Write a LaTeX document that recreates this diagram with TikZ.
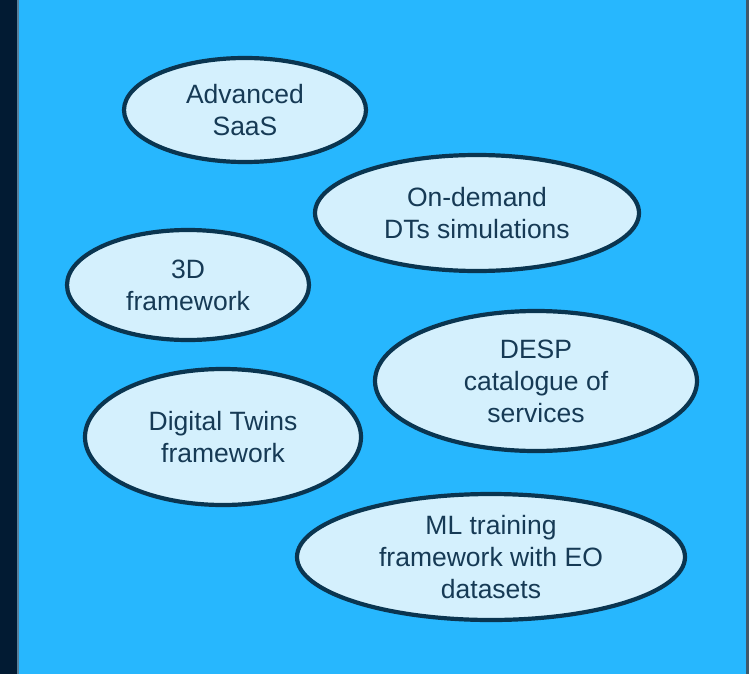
\documentclass[tikz,border=0pt]{standalone}
\usepackage{fontspec}
\setmainfont{Liberation Sans}
\usetikzlibrary{shapes.geometric}
\definecolor{bgblue}{HTML}{27B7FE}
\definecolor{navy}{HTML}{021B33}
\definecolor{edgeline}{HTML}{5A7F98}
\definecolor{ellfill}{HTML}{D4F0FD}
\definecolor{ellborder}{HTML}{0A3550}
\definecolor{txt}{HTML}{163A55}
\tikzset{
  bubble/.style={ellipse, draw=ellborder, line width=4.2pt, fill=ellfill,
    inner sep=0pt, align=center, text=txt,
    font=\fontsize{26.5}{32}\selectfont},
}
\begin{document}
\begin{tikzpicture}[x=1pt,y=-1pt]
\useasboundingbox (0,0) rectangle (749,674);
\fill[bgblue] (0,0) rectangle (749,674);
\fill[navy] (0,0) rectangle (17,674);
\fill[edgeline] (17,0) rectangle (18.5,674);
\fill[edgeline!70!black] (746,0) rectangle (749,674);

\node[bubble, minimum width=242pt, minimum height=104pt] (saas) at (245,110) {Advanced\\SaaS};
\node[bubble, minimum width=324pt, minimum height=116pt] (ondemand) at (477,213) {On-demand\\DTs simulations};
\node[bubble, minimum width=242pt, minimum height=110pt] (threed) at (188,285) {3D\\framework};
\node[bubble, minimum width=322pt, minimum height=140pt] (desp) at (536,381) {DESP\\catalogue of\\services};
\node[bubble, minimum width=276pt, minimum height=136pt] (dt) at (223,437) {Digital Twins\\framework};
\node[bubble, minimum width=388pt, minimum height=126pt] (ml) at (491,557) {ML training\\framework with EO\\datasets};
\end{tikzpicture}
\end{document}
